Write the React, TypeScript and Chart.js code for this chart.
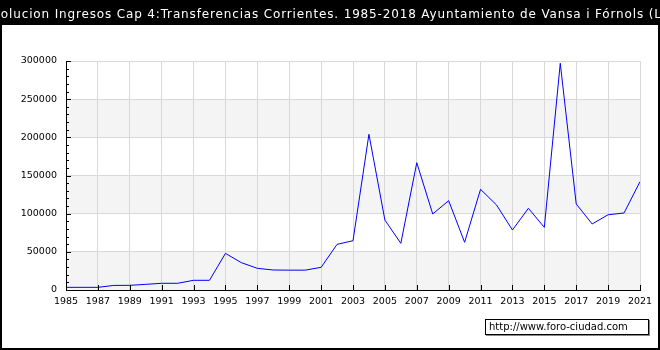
import React, { useEffect, useRef } from "react";
import { Chart, registerables } from "chart.js";

Chart.register(...registerables);

const TITLE = "Evolucion Ingresos Cap 4:Transferencias Corrientes. 1985-2018 Ayuntamiento de Vansa i Fórnols (La)";
const FOOTER = "http://www.foro-ciudad.com";

const years = [
  1985, 1986, 1987, 1988, 1989, 1990, 1991, 1992, 1993, 1994, 1995, 1996, 1997,
  1998, 1999, 2000, 2001, 2002, 2003, 2004, 2005, 2006, 2007, 2008, 2009, 2010,
  2011, 2012, 2013, 2014, 2015, 2016, 2017, 2018, 2019, 2020, 2021,
];
const values = [
  3500, 3500, 3500, 6000, 6100, 7400, 8800, 8800, 12700, 12700, 48000, 35800, 28400,
  26200, 26000, 26000, 29700, 59800, 64600, 204000, 91700, 61100, 166800, 99600, 117000, 62500,
  131900, 111400, 78600, 107000, 82100, 297000, 112700, 86500, 98600, 100900, 141900,
];

const Y_MIN = 0;
const Y_MAX = 300000;
const Y_STEP = 50000;
const Y_MINOR = 10000;
const X_MIN = 1985;
const X_MAX = 2021;
const X_STEP = 2;

const FONT = "'DejaVu Sans', Verdana, sans-serif";

const framePlugin = {
  id: "frame",
  beforeDraw(chart: any) {
    const { ctx, width, height, chartArea, scales } = chart;
    ctx.save();
    ctx.fillStyle = "#ffffff";
    ctx.fillRect(0, 0, width, height);
    const y = scales.y;
    ctx.fillStyle = "#f4f4f4";
    for (let v = Y_MIN; v < Y_MAX; v += 2 * Y_STEP) {
      const top = y.getPixelForValue(v + Y_STEP);
      const bot = y.getPixelForValue(v);
      ctx.fillRect(chartArea.left, top, chartArea.right - chartArea.left, bot - top);
    }
    ctx.restore();
  },
  afterDraw(chart: any) {
    const { ctx, width, height, chartArea, scales } = chart;
    ctx.save();
    ctx.strokeStyle = "#000";
    ctx.lineWidth = 1;
    const y = scales.y;
    const x = scales.x;
    ctx.beginPath();
    for (let v = Y_MIN; v <= Y_MAX; v += Y_MINOR) {
      const py = Math.round(y.getPixelForValue(v)) + 0.5;
      const len = v % Y_STEP === 0 ? 5 : 3;
      ctx.moveTo(chartArea.left, py);
      ctx.lineTo(chartArea.left + len, py);
    }
    for (let v = X_MIN; v <= X_MAX; v += X_STEP) {
      const px = Math.round(x.getPixelForValue(v)) + 0.5;
      ctx.moveTo(px, chartArea.bottom);
      ctx.lineTo(px, chartArea.bottom - 5);
    }
    ctx.stroke();

    ctx.fillStyle = "#000";
    ctx.fillRect(0, 0, width, 25);
    ctx.fillRect(0, 0, 2, height);
    ctx.fillRect(width - 2, 0, 2, height);
    ctx.fillRect(0, height - 2, width, 2);
    ctx.fillStyle = "#fff";
    ctx.font = `12px ${FONT}`;
    (ctx as any).letterSpacing = "0.85px";
    ctx.textAlign = "center";
    ctx.textBaseline = "alphabetic";
    ctx.fillText(TITLE, width / 2, 18);
    (ctx as any).letterSpacing = "0px";

    const bx = 485, by = 319, bw = 164, bh = 16;
    ctx.fillStyle = "#888";
    ctx.fillRect(bx + 1, by + 1, bw, bh);
    ctx.fillStyle = "#fff";
    ctx.fillRect(bx, by, bw, bh);
    ctx.strokeStyle = "#000";
    ctx.strokeRect(bx + 0.5, by + 0.5, bw - 1, bh - 1);
    ctx.fillStyle = "#000";
    ctx.font = `10px ${FONT}`;
    ctx.textAlign = "left";
    ctx.textBaseline = "middle";
    ctx.fillText(FOOTER, bx + 4, by + bh / 2 + 0.5);
    ctx.restore();
  },
};

export default function App() {
  const ref = useRef<HTMLCanvasElement | null>(null);
  useEffect(() => {
    document.body.style.margin = "0";
    const canvas = ref.current!;
    const chart = new Chart(canvas, {
      type: "line",
      data: {
        datasets: [
          {
            data: years.map((yr, i) => ({ x: yr, y: values[i] })),
            borderColor: "#0000ff",
            borderWidth: 1,
            pointRadius: 0,
            tension: 0,
            fill: false,
          },
        ],
      },
      options: {
        responsive: false,
        animation: false,
        events: [],
        layout: { padding: { left: 0, top: 61, right: 20, bottom: 0 } },
        plugins: { legend: { display: false }, title: { display: false }, tooltip: { enabled: false } },
        scales: {
          x: {
            type: "linear",
            min: X_MIN,
            max: X_MAX,
            afterFit: (s: any) => { s.height = 60; },
            ticks: {
              stepSize: X_STEP,
              autoSkip: false,
              maxRotation: 0,
              padding: 6,
              color: "#000",
              font: { family: FONT, size: 9.5 },
              callback: (v: any) => String(v),
            },
            grid: { color: "#d8d8d8", drawTicks: false },
            border: { color: "#000", width: 1 },
          },
          y: {
            min: Y_MIN,
            max: Y_MAX,
            afterFit: (s: any) => { s.width = 66; },
            ticks: {
              stepSize: Y_STEP,
              padding: 9,
              color: "#000",
              font: { family: FONT, size: 9.5 },
              callback: (v: any) => String(v),
            },
            grid: { color: "#d8d8d8", drawTicks: false },
            border: { color: "#000", width: 1 },
          },
        },
      },
      plugins: [framePlugin],
    });
    return () => chart.destroy();
  }, []);
  return (
    <div style={{ position: "absolute", left: 0, top: 0, width: 660, height: 350 }}>
      <canvas ref={ref} width={660} height={350} style={{ display: "block", width: 660, height: 350 }} />
    </div>
  );
}
